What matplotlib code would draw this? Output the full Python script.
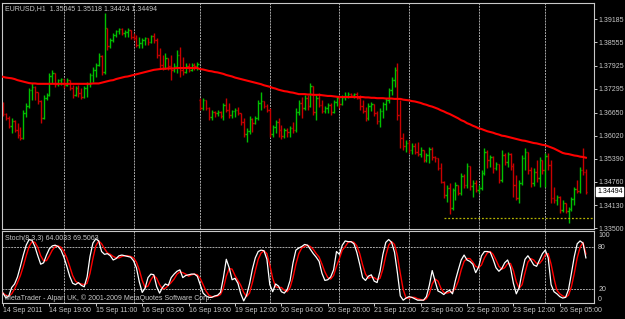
import numpy as np
import matplotlib.pyplot as plt
import matplotlib.transforms as mtransforms

plt.rcParams['font.family'] = ['Liberation Sans', 'DejaVu Sans']

symbol_title = "EURUSD,H1  1.35045 1.35118 1.34424 1.34494"
stoch_title = "Stoch(8,3,3) 64.0033 69.5063"
footer = "MetaTrader - Alpari UK, \u00a9 2001-2009 MetaQuotes Software Corp."

# hourly bars, 14 Sep 03:00 .. 26 Sep 14:00
opens = [1.3691, 1.3661, 1.3650, 1.3628, 1.3642, 1.3617, 1.3604, 1.3596, 1.3664, 1.3683,
         1.3726, 1.3734, 1.3721, 1.3696, 1.3650, 1.3704, 1.3713, 1.3764, 1.3772, 1.3743,
         1.3753, 1.3756, 1.3740, 1.3753, 1.3732, 1.3713, 1.3732, 1.3718, 1.3707, 1.3732,
         1.3743, 1.3767, 1.3781, 1.3794, 1.3819, 1.3775, 1.3895, 1.3846, 1.3862, 1.3876,
         1.3887, 1.3892, 1.3881, 1.3884, 1.3889, 1.3870, 1.3868, 1.3849, 1.3854, 1.3862,
         1.3868, 1.3857, 1.3873, 1.3862, 1.3821, 1.3794, 1.3786, 1.3813, 1.3791, 1.3781,
         1.3791, 1.3821, 1.3781, 1.3775, 1.3791, 1.3781, 1.3794, 1.3791, 1.3699, 1.3677,
         1.3699, 1.3677, 1.3653, 1.3666, 1.3664, 1.3666, 1.3655, 1.3685, 1.3672, 1.3658,
         1.3669, 1.3672, 1.3664, 1.3639, 1.3607, 1.3615, 1.3647, 1.3636, 1.3650, 1.3691,
         1.3696, 1.3683, 1.3672, 1.3607, 1.3626, 1.3639, 1.3617, 1.3601, 1.3617, 1.3612,
         1.3623, 1.3617, 1.3666, 1.3691, 1.3677, 1.3704, 1.3683, 1.3737, 1.3666, 1.3704,
         1.3685, 1.3669, 1.3677, 1.3685, 1.3666, 1.3694, 1.3704, 1.3688, 1.3707, 1.3710,
         1.3715, 1.3713, 1.3715, 1.3704, 1.3683, 1.3669, 1.3650, 1.3683, 1.3688, 1.3664,
         1.3642, 1.3669, 1.3688, 1.3699, 1.3726, 1.3753, 1.3781, 1.3658, 1.3596, 1.3574,
         1.3582, 1.3563, 1.3574, 1.3558, 1.3552, 1.3563, 1.3536, 1.3549, 1.3566, 1.3544,
         1.3541, 1.3514, 1.3476, 1.3441, 1.3460, 1.3405, 1.3454, 1.3468, 1.3446, 1.3492,
         1.3468, 1.3520, 1.3465, 1.3473, 1.3454, 1.3460, 1.3500, 1.3558, 1.3536, 1.3544,
         1.3514, 1.3525, 1.3481, 1.3549, 1.3530, 1.3552, 1.3520, 1.3468, 1.3432, 1.3473,
         1.3541, 1.3558, 1.3509, 1.3473, 1.3503, 1.3487, 1.3536, 1.3509, 1.3547, 1.3522,
         1.3432, 1.3427, 1.3435, 1.3400, 1.3419, 1.3397, 1.3403, 1.3430, 1.3457, 1.3452,
         1.3509, 1.35045]
highs = [1.3694, 1.3664, 1.3655, 1.3650, 1.3645, 1.3636, 1.3626, 1.3672, 1.3691, 1.3732,
         1.3745, 1.3737, 1.3721, 1.3699, 1.3713, 1.3718, 1.3772, 1.3781, 1.3772, 1.3756,
         1.3759, 1.3756, 1.3759, 1.3753, 1.3740, 1.3737, 1.3740, 1.3732, 1.3737, 1.3748,
         1.3772, 1.3789, 1.3800, 1.3827, 1.3821, 1.3936, 1.3895, 1.3868, 1.3881, 1.3889,
         1.3895, 1.3895, 1.3889, 1.3895, 1.3889, 1.3881, 1.3876, 1.3870, 1.3868, 1.3870,
         1.3868, 1.3876, 1.3881, 1.3868, 1.3840, 1.3821, 1.3827, 1.3813, 1.3821, 1.3800,
         1.3835, 1.3843, 1.3816, 1.3800, 1.3800, 1.3800, 1.3800, 1.3802, 1.3704, 1.3704,
         1.3699, 1.3680, 1.3672, 1.3669, 1.3672, 1.3669, 1.3691, 1.3704, 1.3691, 1.3672,
         1.3677, 1.3680, 1.3664, 1.3650, 1.3623, 1.3655, 1.3650, 1.3655, 1.3699, 1.3721,
         1.3696, 1.3688, 1.3677, 1.3631, 1.3645, 1.3650, 1.3631, 1.3623, 1.3623, 1.3628,
         1.3639, 1.3677, 1.3699, 1.3707, 1.3713, 1.3713, 1.3745, 1.3737, 1.3713, 1.3718,
         1.3699, 1.3683, 1.3691, 1.3691, 1.3699, 1.3710, 1.3713, 1.3713, 1.3721, 1.3721,
         1.3718, 1.3718, 1.3721, 1.3713, 1.3699, 1.3680, 1.3691, 1.3694, 1.3688, 1.3669,
         1.3677, 1.3694, 1.3704, 1.3732, 1.3762, 1.3789, 1.3800, 1.3699, 1.3609, 1.3590,
         1.3590, 1.3582, 1.3582, 1.3585, 1.3571, 1.3563, 1.3555, 1.3571, 1.3571, 1.3547,
         1.3541, 1.3528, 1.3479, 1.3468, 1.3473, 1.3460, 1.3476, 1.3468, 1.3500, 1.3498,
         1.3528, 1.3520, 1.3481, 1.3481, 1.3468, 1.3509, 1.3568, 1.3563, 1.3549, 1.3547,
         1.3530, 1.3522, 1.3563, 1.3555, 1.3558, 1.3555, 1.3528, 1.3495, 1.3481, 1.3549,
         1.3568, 1.3558, 1.3517, 1.3514, 1.3536, 1.3544, 1.3536, 1.3555, 1.3555, 1.3536,
         1.3462, 1.3441, 1.3438, 1.3427, 1.3419, 1.3408, 1.3435, 1.3462, 1.3481, 1.3517,
         1.3568, 1.35118]
lows = [1.3655, 1.3645, 1.3623, 1.3609, 1.3612, 1.3596, 1.3590, 1.3593, 1.3653, 1.3677,
        1.3699, 1.3699, 1.3688, 1.3636, 1.3647, 1.3699, 1.3710, 1.3745, 1.3734, 1.3737,
        1.3740, 1.3732, 1.3737, 1.3726, 1.3704, 1.3710, 1.3707, 1.3702, 1.3704, 1.3707,
        1.3734, 1.3748, 1.3762, 1.3791, 1.3767, 1.3770, 1.3835, 1.3840, 1.3857, 1.3870,
        1.3879, 1.3876, 1.3870, 1.3870, 1.3865, 1.3862, 1.3843, 1.3840, 1.3840, 1.3849,
        1.3849, 1.3854, 1.3854, 1.3813, 1.3786, 1.3781, 1.3783, 1.3781, 1.3753, 1.3775,
        1.3772, 1.3762, 1.3767, 1.3772, 1.3775, 1.3778, 1.3781, 1.3781, 1.3672, 1.3672,
        1.3672, 1.3645, 1.3645, 1.3653, 1.3655, 1.3650, 1.3645, 1.3666, 1.3650, 1.3650,
        1.3653, 1.3658, 1.3631, 1.3598, 1.3585, 1.3607, 1.3612, 1.3634, 1.3645, 1.3672,
        1.3677, 1.3666, 1.3598, 1.3598, 1.3609, 1.3598, 1.3593, 1.3596, 1.3598, 1.3598,
        1.3609, 1.3612, 1.3658, 1.3650, 1.3672, 1.3672, 1.3680, 1.3658, 1.3645, 1.3680,
        1.3664, 1.3664, 1.3664, 1.3658, 1.3664, 1.3683, 1.3677, 1.3685, 1.3699, 1.3704,
        1.3707, 1.3704, 1.3702, 1.3672, 1.3664, 1.3642, 1.3645, 1.3669, 1.3655, 1.3634,
        1.3626, 1.3650, 1.3672, 1.3691, 1.3713, 1.3734, 1.3645, 1.3568, 1.3563, 1.3558,
        1.3555, 1.3552, 1.3552, 1.3547, 1.3544, 1.3530, 1.3530, 1.3528, 1.3536, 1.3530,
        1.3509, 1.3473, 1.3432, 1.3422, 1.3389, 1.3400, 1.3427, 1.3441, 1.3441, 1.3460,
        1.3460, 1.3454, 1.3435, 1.3449, 1.3446, 1.3454, 1.3495, 1.3514, 1.3517, 1.3500,
        1.3509, 1.3473, 1.3476, 1.3522, 1.3517, 1.3509, 1.3435, 1.3427, 1.3419, 1.3468,
        1.3509, 1.3498, 1.3462, 1.3465, 1.3476, 1.3462, 1.3498, 1.3462, 1.3509, 1.3419,
        1.3419, 1.3413, 1.3392, 1.3394, 1.3392, 1.3364, 1.3397, 1.3413, 1.3446, 1.3446,
        1.3495, 1.34424]
closes = [1.3661, 1.3650, 1.3628, 1.3642, 1.3617, 1.3604, 1.3596, 1.3664, 1.3683, 1.3726,
          1.3734, 1.3721, 1.3696, 1.3650, 1.3704, 1.3713, 1.3764, 1.3772, 1.3743, 1.3753,
          1.3756, 1.3740, 1.3753, 1.3732, 1.3713, 1.3732, 1.3718, 1.3707, 1.3732, 1.3743,
          1.3767, 1.3781, 1.3794, 1.3819, 1.3775, 1.3895, 1.3846, 1.3862, 1.3876, 1.3887,
          1.3892, 1.3881, 1.3884, 1.3889, 1.3870, 1.3868, 1.3849, 1.3854, 1.3862, 1.3868,
          1.3857, 1.3873, 1.3862, 1.3821, 1.3794, 1.3786, 1.3813, 1.3791, 1.3781, 1.3791,
          1.3821, 1.3781, 1.3775, 1.3791, 1.3781, 1.3794, 1.3791, 1.3797, 1.3677, 1.3699,
          1.3677, 1.3653, 1.3666, 1.3664, 1.3666, 1.3655, 1.3685, 1.3672, 1.3658, 1.3669,
          1.3672, 1.3664, 1.3639, 1.3607, 1.3615, 1.3647, 1.3636, 1.3650, 1.3691, 1.3696,
          1.3683, 1.3672, 1.3607, 1.3626, 1.3639, 1.3617, 1.3601, 1.3617, 1.3612, 1.3623,
          1.3617, 1.3666, 1.3691, 1.3677, 1.3704, 1.3683, 1.3737, 1.3666, 1.3704, 1.3685,
          1.3669, 1.3677, 1.3685, 1.3666, 1.3694, 1.3704, 1.3688, 1.3707, 1.3710, 1.3715,
          1.3713, 1.3715, 1.3704, 1.3683, 1.3669, 1.3650, 1.3683, 1.3688, 1.3664, 1.3642,
          1.3669, 1.3688, 1.3699, 1.3726, 1.3753, 1.3781, 1.3658, 1.3596, 1.3574, 1.3582,
          1.3563, 1.3574, 1.3558, 1.3552, 1.3563, 1.3536, 1.3549, 1.3566, 1.3544, 1.3541,
          1.3514, 1.3476, 1.3441, 1.3460, 1.3405, 1.3454, 1.3468, 1.3446, 1.3492, 1.3468,
          1.3520, 1.3465, 1.3473, 1.3454, 1.3460, 1.3500, 1.3558, 1.3536, 1.3544, 1.3514,
          1.3525, 1.3481, 1.3549, 1.3530, 1.3552, 1.3520, 1.3468, 1.3432, 1.3473, 1.3541,
          1.3558, 1.3509, 1.3473, 1.3503, 1.3487, 1.3536, 1.3509, 1.3547, 1.3522, 1.3432,
          1.3427, 1.3435, 1.3400, 1.3419, 1.3397, 1.3403, 1.3430, 1.3457, 1.3452, 1.3509,
          1.35045, 1.34494]
ma = [1.3762, 1.3760, 1.3759, 1.3758, 1.3756, 1.3753, 1.3751, 1.3749, 1.3747, 1.3745,
      1.3744, 1.3744, 1.3743, 1.3743, 1.3743, 1.3743, 1.3743, 1.3743, 1.3743, 1.3743,
      1.3743, 1.3743, 1.3743, 1.3743, 1.3743, 1.3743, 1.3743, 1.3743, 1.3743, 1.3743,
      1.3743, 1.3744, 1.3744, 1.3744, 1.3746, 1.3748, 1.3750, 1.3752, 1.3753, 1.3756,
      1.3758, 1.3760, 1.3762, 1.3763, 1.3765, 1.3767, 1.3769, 1.3771, 1.3773, 1.3775,
      1.3777, 1.3779, 1.3781, 1.3782, 1.3783, 1.3784, 1.3784, 1.3785, 1.3785, 1.3785,
      1.3786, 1.3786, 1.3786, 1.3786, 1.3786, 1.3786, 1.3786, 1.3786, 1.3783, 1.3782,
      1.3780, 1.3778, 1.3777, 1.3775, 1.3774, 1.3772, 1.3770, 1.3767, 1.3765, 1.3763,
      1.3760, 1.3758, 1.3756, 1.3754, 1.3752, 1.3750, 1.3748, 1.3746, 1.3744, 1.3742,
      1.3739, 1.3737, 1.3735, 1.3732, 1.3730, 1.3727, 1.3725, 1.3723, 1.3722, 1.3720,
      1.3719, 1.3717, 1.3715, 1.3715, 1.3715, 1.3714, 1.3714, 1.3713, 1.3713, 1.3713,
      1.3712, 1.3711, 1.3710, 1.3710, 1.3709, 1.3708, 1.3707, 1.3707, 1.3707, 1.3707,
      1.3707, 1.3707, 1.3707, 1.3707, 1.3707, 1.3706, 1.3706, 1.3705, 1.3705, 1.3704,
      1.3704, 1.3704, 1.3703, 1.3703, 1.3703, 1.3702, 1.3702, 1.3702, 1.3700, 1.3699,
      1.3698, 1.3696, 1.3695, 1.3693, 1.3691, 1.3688, 1.3686, 1.3683, 1.3681, 1.3678,
      1.3675, 1.3671, 1.3668, 1.3664, 1.3661, 1.3657, 1.3653, 1.3649, 1.3644, 1.3641,
      1.3636, 1.3633, 1.3629, 1.3626, 1.3622, 1.3620, 1.3617, 1.3614, 1.3612, 1.3610,
      1.3607, 1.3605, 1.3602, 1.3601, 1.3599, 1.3597, 1.3595, 1.3593, 1.3591, 1.3589,
      1.3588, 1.3586, 1.3584, 1.3582, 1.3581, 1.3579, 1.3577, 1.3576, 1.3573, 1.3570,
      1.3567, 1.3563, 1.3559, 1.3555, 1.3553, 1.3552, 1.3550, 1.3548, 1.3547, 1.3545,
      1.3544, 1.3542]
stoch_main = [14, 7, 10, 22, 27, 37, 52, 68, 82, 90,
              89, 80, 67, 55, 57, 68, 77, 81, 82, 80,
              75, 65, 52, 38, 28, 26, 29, 25, 23, 37,
              66, 85, 91, 88, 73, 69, 70, 67, 61, 63,
              67, 68, 67, 66, 65, 60, 50, 30, 15, 21,
              36, 41, 40, 23, 14, 22, 27, 25, 36, 41,
              45, 47, 36, 39, 40, 41, 41, 38, 26, 14,
              10, 8, 8, 10, 11, 15, 36, 62, 50, 33,
              35, 28, 13, 3, 11, 27, 48, 64, 73, 75,
              74, 62, 26, 16, 27, 24, 16, 14, 19, 32,
              57, 75, 78, 80, 83, 82, 76, 70, 65, 59,
              42, 32, 33, 37, 47, 73, 69, 82, 88, 87,
              87, 84, 72, 55, 36, 32, 38, 40, 31, 29,
              45, 69, 86, 90, 86, 72, 43, 10, 4, 7,
              9, 8, 6, 4, 4, 4, 9, 25, 46, 31,
              17, 15, 12, 16, 18, 13, 32, 47, 61, 68,
              61, 59, 55, 43, 51, 67, 73, 73, 72, 62,
              50, 45, 49, 57, 61, 50, 28, 13, 22, 44,
              62, 67, 61, 54, 52, 61, 70, 75, 64, 26,
              16, 13, 9, 7, 8, 19, 42, 66, 84, 88,
              85, 64.0]
stoch_signal = [14, 11, 10, 13, 20, 29, 39, 52, 67, 80,
                87, 86, 79, 67, 60, 60, 67, 75, 80, 81,
                79, 73, 64, 52, 39, 31, 28, 27, 26, 28,
                42, 63, 81, 88, 84, 77, 71, 69, 66, 64,
                64, 66, 67, 67, 66, 64, 58, 47, 32, 22,
                24, 33, 39, 35, 26, 20, 21, 25, 29, 34,
                41, 44, 43, 41, 38, 40, 41, 40, 35, 26,
                17, 11, 9, 9, 10, 12, 21, 38, 49, 48,
                39, 32, 25, 15, 9, 14, 29, 46, 62, 71,
                74, 70, 54, 35, 23, 22, 22, 18, 16, 22,
                36, 55, 70, 78, 80, 82, 80, 76, 70, 65,
                55, 44, 36, 34, 39, 52, 63, 75, 80, 86,
                87, 86, 81, 70, 54, 41, 35, 37, 36, 33,
                35, 48, 67, 82, 87, 83, 67, 42, 19, 7,
                7, 8, 8, 6, 5, 4, 6, 13, 27, 34,
                31, 21, 15, 14, 15, 16, 21, 31, 47, 59,
                63, 63, 58, 52, 50, 54, 64, 71, 73, 69,
                61, 52, 48, 50, 56, 56, 46, 30, 21, 26,
                43, 58, 63, 61, 56, 56, 61, 69, 70, 55,
                35, 18, 13, 10, 8, 11, 23, 42, 64, 79,
                86, 69.5]

price_ticks = [1.39185, 1.38555, 1.37925, 1.37295, 1.36650,
               1.36020, 1.35390, 1.34760, 1.34130, 1.33500]
date_pos = [0, 16, 32, 48, 64, 80, 96, 112, 128, 144, 160, 176, 192]
date_labels = ["14 Sep 2011", "14 Sep 19:00", "15 Sep 11:00", "16 Sep 03:00",
               "16 Sep 19:00", "19 Sep 12:00", "20 Sep 04:00", "20 Sep 20:00",
               "21 Sep 12:00", "22 Sep 04:00", "22 Sep 20:00", "23 Sep 12:00",
               "26 Sep 05:00"]
day_breaks = [21, 45, 68, 92, 116, 140, 164, 187]
stoch_levels = [20, 80]
low_line = 1.3379
low_line_start = 152
last_price = 1.34494

GREEN = '#00c000'
RED = '#c80000'
FG = '#c8c8c8'
GRID = '#a8a8a8'

W, H = 625, 319
fig = plt.figure(figsize=(6.25, 3.19), dpi=100, facecolor='black')


def box(l, t, r, b):
    return [l / W, 1 - b / H, (r - l) / W, (b - t) / H]


ax = fig.add_axes(box(2, 3, 594, 229))
ax2 = fig.add_axes(box(2, 231, 594, 303), sharex=ax)

x = np.arange(len(closes))
o = np.array(opens)
h = np.array(highs)
l = np.array(lows)
c = np.array(closes)
col = np.where(c >= o, GREEN, RED)
top = np.maximum(np.maximum(h, o), c)
bot = np.minimum(np.minimum(l, o), c)

for a in (ax, ax2):
    a.set_facecolor('black')
    for s in a.spines.values():
        s.set_color(FG)
        s.set_linewidth(0.8)
    for d in day_breaks:
        a.axvline(d, color=GRID, lw=0.7, ls=(0, (2, 1)), zorder=1)

ax.vlines(x, bot, top, colors=col, lw=1.0, zorder=2)
ax.hlines(o, x - 0.45, x, colors=col, lw=1.0, zorder=2)
ax.hlines(c, x, x + 0.45, colors=col, lw=1.0, zorder=2)
ax.plot(x, ma, color='#ff0000', lw=1.5, zorder=3)
ax.hlines(low_line, low_line_start, x[-1] + 3, colors='#b4b400', lw=0.9,
          linestyles=(0, (1.5, 1.5)), zorder=2)

ax.set_xlim(-1 / 2.9, -1 / 2.9 + 592 / 2.9)
ax.set_ylim(1.3971 - 0.000272 * 229, 1.3971 - 0.000272 * 3)
ax.yaxis.tick_right()
ax.set_yticks(price_ticks)
ax.set_yticklabels(['%.5f' % p for p in price_ticks])
ax.tick_params(axis='y', colors=FG, labelsize=5, length=2, width=0.7, pad=1.5)
ax.tick_params(axis='x', bottom=False, labelbottom=False)

trans = mtransforms.blended_transform_factory(ax.transAxes, ax.transData)
ax.text(1 + 3 / 592, last_price, '%.5f' % last_price, transform=trans, color='black',
        fontsize=5, va='center', ha='left',
        bbox=dict(facecolor='white', edgecolor='white', pad=0.6))

ax2.plot(x, stoch_signal, color='#ff0000', lw=1.0, zorder=3)
ax2.plot(x, stoch_main, color='white', lw=0.9, zorder=4)
for lv in stoch_levels:
    ax2.axhline(lv, color=GRID, lw=0.7, ls=(0, (2, 1)), zorder=1)
ax2.set_ylim(0, 102.1)
ax2.yaxis.tick_right()
ax2.set_yticks([100, 80, 20, 0])
ax2.set_yticklabels(['100', '80', '20', '0'])
ax2.get_yticklabels()[0].set_va('top')
ax2.get_yticklabels()[3].set_va('bottom')
ax2.tick_params(axis='y', colors=FG, labelsize=5, length=0, pad=3)
ax2.set_xticks(date_pos)
ax2.set_xticklabels(date_labels, ha='left')
ax2.tick_params(axis='x', colors=FG, labelsize=5, length=2.2, width=0.7, pad=1)

fig.text(5 / W, 1 - 9 / H, symbol_title, color=FG, fontsize=5, va='center')
fig.text(5 / W, 1 - 239 / H, stoch_title, color=FG, fontsize=5, va='center')
fig.text(5 / W, 1 - 298 / H, footer, color=FG, fontsize=5, va='center')

fig.savefig('out.png', dpi=100, facecolor='black')
